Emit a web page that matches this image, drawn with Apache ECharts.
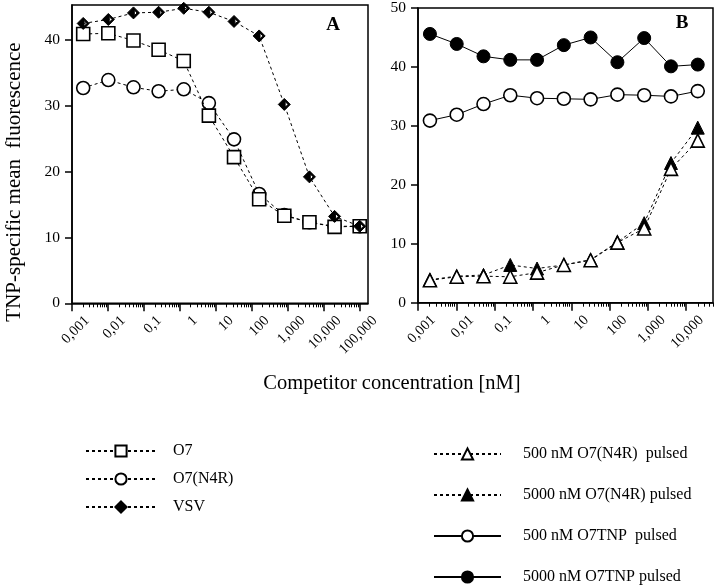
<!DOCTYPE html>
<html>
<head>
<meta charset="utf-8">
<script src="https://cdn.jsdelivr.net/npm/echarts@6/dist/echarts.min.js"></script>
<style>
html,body{margin:0;padding:0;background:#fff;}
#chart{width:720px;height:586px;}
</style>
</head>
<body>
<div id="chart"></div>
<script>
// ---- data ----
const concA = [0.002048, 0.01024, 0.0512, 0.256, 1.28, 6.4, 32, 160, 800, 4000, 20000, 100000];
const concB = [0.002048, 0.01024, 0.0512, 0.256, 1.28, 6.4, 32, 160, 800, 4000, 20000];

const o7 = [40.9, 41.0, 39.9, 38.5, 36.8, 28.5, 22.2, 15.8, 13.3, 12.3, 11.6, 11.7];
const o7n4r = [32.7, 33.9, 32.8, 32.2, 32.5, 30.4, 24.9, 16.6, 13.4, 12.3, 11.7, 11.7];
const vsv = [42.5, 43.1, 44.1, 44.2, 44.8, 44.2, 42.8, 40.6, 30.2, 19.2, 13.2, 11.7];

const n4r500 = [3.8, 4.4, 4.5, 4.4, 5.1, 6.4, 7.2, 10.2, 12.6, 22.7, 27.5];
const n4r5000 = [3.9, 4.5, 4.7, 6.4, 5.8, 6.4, 7.3, 10.3, 13.5, 23.7, 29.7];
const tnp500 = [30.9, 31.9, 33.7, 35.2, 34.7, 34.6, 34.5, 35.3, 35.2, 35.0, 35.9];
const tnp5000 = [45.6, 43.9, 41.8, 41.2, 41.2, 43.7, 45.0, 40.8, 44.9, 40.1, 40.4];

const xTickValuesA = [0.001, 0.01, 0.1, 1, 10, 100, 1000, 10000, 100000];
const xTickLabelsA = ['0,001', '0,01', '0,1', '1', '10', '100', '1,000', '10,000', '100,000'];
const xTickValuesB = [0.001, 0.01, 0.1, 1, 10, 100, 1000, 10000];
const xTickLabelsB = ['0,001', '0,01', '0,1', '1', '10', '100', '1,000', '10,000'];
const yTicksA = [0, 10, 20, 30, 40];
const yTicksB = [0, 10, 20, 30, 40, 50];

const namesA = ['O7', 'O7(N4R)', 'VSV'];
const namesB = ['500 nM O7(N4R)  pulsed', '5000 nM O7(N4R) pulsed', '500 nM O7TNP  pulsed', '5000 nM O7TNP pulsed'];
const yTitle = 'TNP-specific mean  fluorescence';
const xTitle = 'Competitor concentration [nM]';

// ---- helpers ----
const FONT = '"Liberation Serif", "Times New Roman", serif';
function minorTicks(lo, hi) {
  const out = [];
  for (let e = lo; e < hi; e++) {
    for (let m = 2; m <= 9; m++) out.push(m * Math.pow(10, e));
  }
  return out;
}
function labelFmt(vals, labels) {
  return function (v) {
    for (let i = 0; i < vals.length; i++) {
      if (Math.abs(Math.log10(vals[i]) - Math.log10(v)) < 1e-6) return labels[i];
    }
    return '';
  };
}
function pairs(xs, ys) { return xs.map((x, i) => [x, ys[i]]); }

const diamondPath = 'path://M5 0 L10 5 L5 10 L0 5 Z M5.7 2.6 L5.7 7.4 L8.1 5 Z';

const dashed = { color: '#000', width: 1, type: [3, 3] };
const solid = { color: '#000', width: 1, type: 'solid' };
const openStyle = { color: '#fff', borderColor: '#000', borderWidth: 1.6 };
const filledStyle = { color: '#000', borderColor: '#000', borderWidth: 1 };

function majorX(gridIndex, max, vals, labels) {
  return {
    type: 'log', logBase: 10, gridIndex: gridIndex, min: 0.001, max: max,
    axisLine: { show: true, lineStyle: { color: '#000', width: 1.5 } },
    axisTick: { show: true, inside: false, length: 8, lineStyle: { color: '#000', width: 1.5 }, customValues: vals },
    axisLabel: {
      show: true, rotate: 45, margin: 0, align: 'right', verticalAlign: 'top', padding: [14, 0, 0, 0],
      fontFamily: FONT, fontSize: 14.5, color: '#000',
      customValues: vals, formatter: labelFmt(vals, labels)
    },
    splitLine: { show: false }, minorTick: { show: false }
  };
}
function minorX(gridIndex, max, hiExp) {
  return {
    type: 'log', logBase: 10, gridIndex: gridIndex, min: 0.001, max: max, position: 'bottom',
    axisLine: { show: false },
    axisTick: { show: true, inside: false, length: 4, lineStyle: { color: '#000', width: 1 }, customValues: minorTicks(-3, hiExp) },
    axisLabel: { show: false }, splitLine: { show: false }
  };
}
function yAx(gridIndex, max, ticks) {
  return {
    type: 'value', gridIndex: gridIndex, min: 0, max: max,
    axisLine: { show: true, lineStyle: { color: '#000', width: 1.5 } },
    axisTick: { show: true, length: 7, lineStyle: { color: '#000', width: 1.5 }, customValues: ticks },
    axisLabel: { fontFamily: FONT, fontSize: 15.5, color: '#000', margin: 12, customValues: ticks },
    splitLine: { show: false }
  };
}

const option = {
  backgroundColor: '#fff',
  animation: false,
  grid: [
    { left: 72, top: 5, width: 296, height: 298.3, show: true, borderColor: '#000', borderWidth: 1.5, backgroundColor: 'transparent' },
    { left: 418, top: 6, width: 295, height: 296.7, show: true, borderColor: '#000', borderWidth: 1.5, backgroundColor: 'transparent' }
  ],
  xAxis: [
    majorX(0, 170000, xTickValuesA, xTickLabelsA),
    majorX(1, 50000, xTickValuesB, xTickLabelsB),
    minorX(0, 170000, 5),
    minorX(1, 50000, 5)
  ],
  yAxis: [yAx(0, 45.3, yTicksA), yAx(1, 50, yTicksB)],
  legend: [
    {
      data: namesA, orient: 'vertical', left: 85, top: 443, padding: 0, itemWidth: 70, itemHeight: 14, itemGap: 12,
      textStyle: { fontFamily: FONT, fontSize: 16, color: '#000', padding: [0, 0, 0, 12] },
      selectedMode: false
    },
    {
      data: namesB, orient: 'vertical', left: 433, top: 446, padding: 0, itemWidth: 67, itemHeight: 14, itemGap: 25,
      textStyle: { fontFamily: FONT, fontSize: 16, color: '#000', padding: [0, 0, 0, 17] },
      selectedMode: false
    }
  ],
  series: [
    { name: namesA[1], type: 'line', xAxisIndex: 0, yAxisIndex: 0, data: pairs(concA, o7n4r),
      symbol: 'circle', symbolSize: 13, lineStyle: dashed, itemStyle: openStyle, z: 3 },
    { name: namesA[0], type: 'line', xAxisIndex: 0, yAxisIndex: 0, data: pairs(concA, o7),
      symbol: 'rect', symbolSize: 13, lineStyle: dashed, itemStyle: openStyle, z: 4 },
    { name: namesA[2], type: 'line', xAxisIndex: 0, yAxisIndex: 0, data: pairs(concA, vsv),
      symbol: diamondPath, symbolSize: 12, lineStyle: dashed, itemStyle: filledStyle, z: 5 },

    { name: namesB[3], type: 'line', xAxisIndex: 1, yAxisIndex: 1, data: pairs(concB, tnp5000),
      symbol: 'circle', symbolSize: 13, lineStyle: solid, itemStyle: filledStyle, z: 3 },
    { name: namesB[2], type: 'line', xAxisIndex: 1, yAxisIndex: 1, data: pairs(concB, tnp500),
      symbol: 'circle', symbolSize: 13, lineStyle: solid, itemStyle: openStyle, z: 3 },
    { name: namesB[1], type: 'line', xAxisIndex: 1, yAxisIndex: 1, data: pairs(concB, n4r5000),
      symbol: 'triangle', symbolSize: 13, lineStyle: dashed, itemStyle: filledStyle, z: 4 },
    { name: namesB[0], type: 'line', xAxisIndex: 1, yAxisIndex: 1, data: pairs(concB, n4r500),
      symbol: 'triangle', symbolSize: 13, lineStyle: dashed, itemStyle: openStyle, z: 5 }
  ],
  graphic: [
    { type: 'text', x: 14, y: 182, rotation: Math.PI / 2,
      style: { text: yTitle, textAlign: 'center', textVerticalAlign: 'middle', fontFamily: FONT, fontSize: 21, fill: '#000' } },
    { type: 'text', x: 392, y: 384,
      style: { text: xTitle, textAlign: 'center', textVerticalAlign: 'middle', fontFamily: FONT, fontSize: 20.5, fill: '#000' } },
    { type: 'text', x: 333, y: 25,
      style: { text: 'A', textAlign: 'center', textVerticalAlign: 'middle', fontFamily: FONT, fontSize: 19, fontWeight: 'bold', fill: '#000' } },
    { type: 'text', x: 682, y: 23,
      style: { text: 'B', textAlign: 'center', textVerticalAlign: 'middle', fontFamily: FONT, fontSize: 19, fontWeight: 'bold', fill: '#000' } }
  ]
};

const chart = echarts.init(document.getElementById('chart'), null, { renderer: 'canvas' });
chart.setOption(option);
</script>
</body>
</html>
